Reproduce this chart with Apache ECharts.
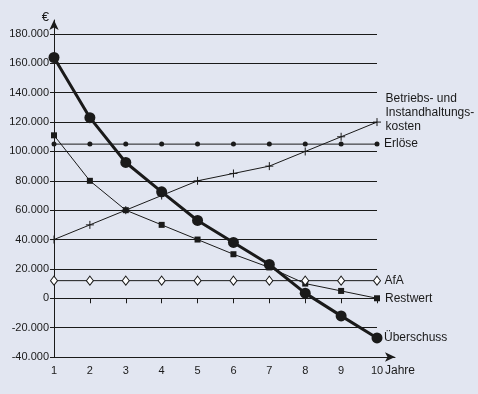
<!DOCTYPE html>
<html><head><meta charset="utf-8">
<script src="https://cdn.jsdelivr.net/npm/echarts@6/dist/echarts.min.js"></script>
<style>html,body{margin:0;padding:0;background:#e2e6f1}#c{width:478px;height:394px}</style>
</head><body><div id="c"></div>
<script>
const years = ['1','2','3','4','5','6','7','8','9','10'];
const betriebskosten = [40000, 50000, 60000, 70000, 80000, 85000, 90000, 100000, 110000, 120000];
const erloese = [105000, 105000, 105000, 105000, 105000, 105000, 105000, 105000, 105000, 105000];
const restwert = [111000, 80000, 60000, 50000, 40000, 30000, 21000, 10000, 5000, 0];
const afa = [12000, 12000, 12000, 12000, 12000, 12000, 12000, 12000, 12000, 12000];
const ueberschuss = [164000, 123000, 92500, 72500, 53000, 38000, 23000, 3500, -12000, -27000];
const yMin = -40000, yMax = 180000, yStep = 20000;
const names = {
  betrieb: 'Betriebs- und\nInstandhaltungs-\nkosten',
  erl: 'Erlöse', afa: 'AfA', rest: 'Restwert', ueb: 'Überschuss'
};
const xName = 'Jahre';
const yName = '€';

const FONT = 'Liberation Sans';
const INK = '#1a1a1a';
function fmt(v){
  if (v === 0) return '0';
  const s = Math.abs(v).toString().replace(/\B(?=(\d{3})+(?!\d))/g, '.');
  return (v < 0 ? '-' : '') + s;
}
function lastLbl(text, dist, off){
  return {show:true, position:'right', distance:dist, offset:off||[0,0], color:INK, fontFamily:FONT,
    fontSize:12, lineHeight:14, align:'left',
    formatter: p => p.dataIndex === years.length - 1 ? text : ''};
}
const chart = echarts.init(document.getElementById('c'), null, {renderer:'canvas'});
chart.setOption({
  backgroundColor:'#e2e6f1',
  animation:false,
  textStyle:{fontFamily:FONT},
  grid:[
    {left:54, right:101, top:34, bottom:37},
    {left:54, right:83, top:20, bottom:37}
  ],
  xAxis:[
    {type:'category', gridIndex:0, data:years, boundaryGap:false,
     axisLine:{show:false}, axisTick:{show:true, length:5, lineStyle:{color:INK}},
     axisLabel:{color:INK, fontSize:11, fontFamily:FONT, margin:8},
     splitLine:{show:false}},
    {type:'value', gridIndex:1, min:0, max:1,
     axisLine:{show:true, onZero:false, symbol:['none','arrow'], symbolSize:[7,10], lineStyle:{color:INK, width:1}},
     axisTick:{show:false}, axisLabel:{show:false}, splitLine:{show:false}}
  ],
  yAxis:[
    {type:'value', gridIndex:0, min:yMin, max:yMax, interval:yStep,
     axisLine:{show:false}, axisTick:{show:true, length:4, lineStyle:{color:INK}},
     axisLabel:{color:INK, fontSize:11, fontFamily:FONT, margin:5, formatter:fmt},
     splitLine:{show:true, lineStyle:{color:INK, width:1}}},
    {type:'value', gridIndex:1, min:0, max:1,
     axisLine:{show:true, onZero:false, symbol:['none','arrow'], symbolSize:[7,10], lineStyle:{color:INK, width:1}},
     axisTick:{show:false}, axisLabel:{show:false}, splitLine:{show:false},
     name:yName, nameLocation:'end', nameGap:3,
     nameTextStyle:{color:INK, fontSize:13, fontFamily:FONT, align:'right', verticalAlign:'middle', padding:[0,5,0,0]}}
  ],
  graphic:[
    {type:'text', left:385, top:365, style:{text:xName, fill:INK, font:'12px "Liberation Sans"'}}
  ],
  series:[
    {name:'betrieb', type:'line', data:betriebskosten, symbol:'path://M0,5L10,5M5,0L5,10', symbolSize:8,
     lineStyle:{color:INK, width:1}, itemStyle:{color:INK, borderColor:INK, borderWidth:1},
     label:lastLbl(names.betrieb, 4, [0,-9]), z:3},
    {name:'erl', type:'line', data:erloese, symbol:'circle', symbolSize:5,
     lineStyle:{color:INK, width:1}, itemStyle:{color:INK, borderWidth:0}, label:lastLbl(names.erl, 4.5), z:3},
    {name:'rest', type:'line', data:restwert, symbol:'rect', symbolSize:6,
     lineStyle:{color:INK, width:1}, itemStyle:{color:INK, borderWidth:0}, label:lastLbl(names.rest, 5), z:3},
    {name:'afa', type:'line', data:afa, symbol:'diamond', symbolSize:[7,9],
     lineStyle:{color:INK, width:1}, itemStyle:{color:'#ffffff', borderColor:INK, borderWidth:1}, label:lastLbl(names.afa, 3.5), z:3},
    {name:'ueb', type:'line', data:ueberschuss, symbol:'circle', symbolSize:11,
     lineStyle:{color:INK, width:3}, itemStyle:{color:INK, borderWidth:0}, label:lastLbl(names.ueb, 1.5), z:4}
  ]
});
</script></body></html>
